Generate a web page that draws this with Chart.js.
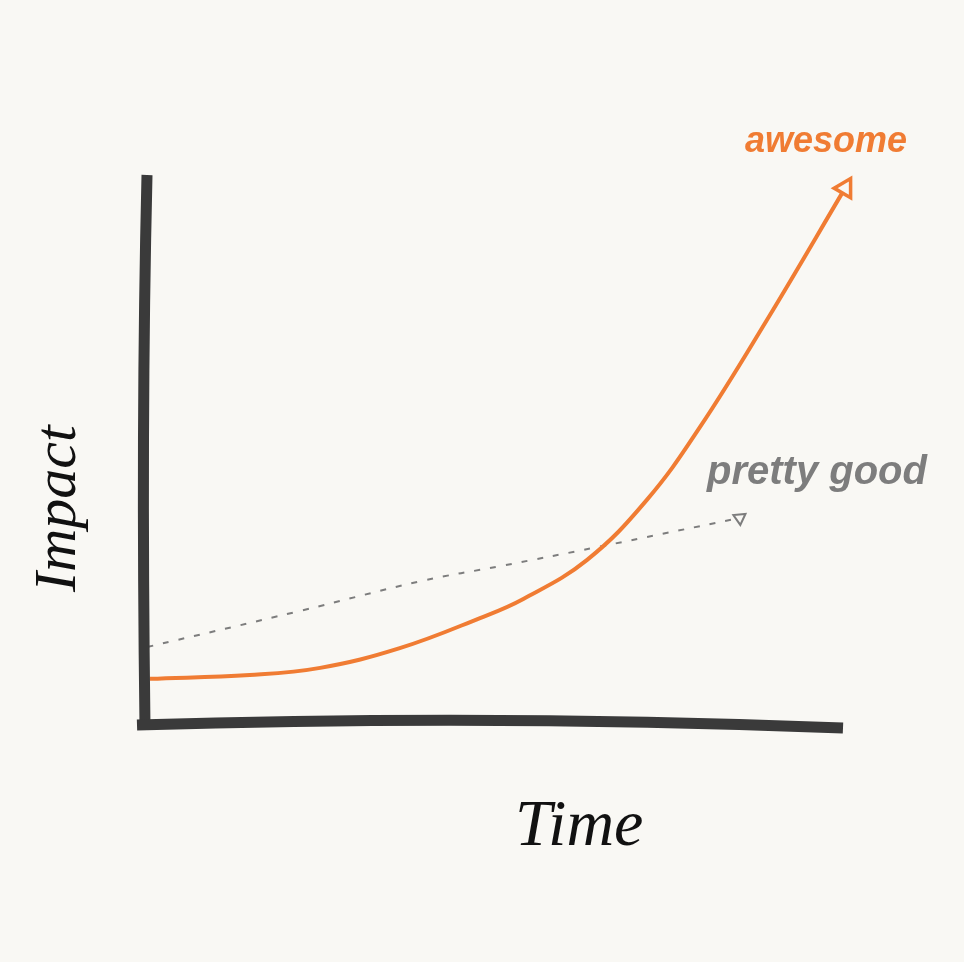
<!DOCTYPE html>
<html>
<head>
<meta charset="utf-8">
<script src="https://cdn.jsdelivr.net/npm/chart.js@4/dist/chart.umd.min.js"></script>
<style>
  html, body { margin: 0; padding: 0; background: #f9f8f4; }
  canvas { display: block; }
</style>
</head>
<body>
<canvas id="sketchChart" width="964" height="962"></canvas>
<script>
// time runs 0..100, impact 0..100 (arbitrary units)
const awesomeTime   = [0.7, 15.0, 25.1, 36.5, 48.0, 54.2, 63.3, 71.9, 79.5, 89.1, 100.3];
const awesomeImpact = [7.9, 8.6, 9.9, 13.5, 19.0, 22.5, 29.6, 40.6, 53.9, 73.5, 97.6];

const goodTime   = [0.3, 22.2, 39.7, 50.9, 64.9, 85.2];
const goodImpact = [13.7, 20.3, 25.8, 28.5, 32.0, 37.3];

const labels = { x: 'Time', y: 'Impact', awesome: 'awesome', good: 'pretty good' };

const orange = '#f07c33';
const grey = '#7d7d7d';
const ink = '#3a3a3a';
const paper = '#f9f8f4';

function toPoints(xs, ys) {
  return xs.map((x, i) => ({ x: x, y: ys[i] }));
}

// arrowhead only on the last point of each series
function lastOnly(size) {
  return ctx => ctx.dataIndex === ctx.dataset.data.length - 1 ? size : 0;
}

const sketchPlugin = {
  id: 'sketch',
  beforeDraw(chart) {
    const c = chart.ctx;
    c.save();
    c.fillStyle = paper;
    c.fillRect(0, 0, chart.width, chart.height);
    c.restore();
  },
  afterDraw(chart) {
    const c = chart.ctx;
    const a = chart.chartArea;
    c.save();
    // wobbly hand drawn axes
    c.strokeStyle = ink;
    c.lineWidth = 11;
    c.lineCap = 'butt';
    c.beginPath();
    c.moveTo(a.left + 2, a.top);
    c.quadraticCurveTo(a.left - 4, a.top + 250, a.left, a.bottom + 5);
    c.stroke();
    c.beginPath();
    c.moveTo(a.left - 8, a.bottom + 3);
    c.quadraticCurveTo(a.left + 350, a.bottom - 8, a.right, a.bottom + 6);
    c.stroke();

    // text
    c.textBaseline = 'alphabetic';
    c.fillStyle = orange;
    c.font = 'italic bold 36px "Liberation Sans"';
    c.fillText(labels.awesome, 745, 152);

    c.fillStyle = grey;
    c.font = 'italic bold 40px "Liberation Sans"';
    c.fillText(labels.good, 707, 484);

    c.fillStyle = '#111';
    c.font = 'italic 66px "Liberation Serif"';
    c.fillText(labels.x, 515, 845);

    c.translate(75, 592);
    c.rotate(-Math.PI / 2);
    c.font = 'italic 60px "Liberation Serif"';
    c.fillText(labels.y, 0, 0);
    c.restore();
  }
};

new Chart(document.getElementById('sketchChart').getContext('2d'), {
  type: 'scatter',
  data: {
    datasets: [
      {
        label: labels.awesome,
        data: toPoints(awesomeTime, awesomeImpact),
        showLine: true,
        clip: false,
        borderColor: orange,
        borderWidth: 4,
        tension: 0.4,
        pointStyle: 'triangle',
        pointRadius: lastOnly(11),
        pointRotation: 30,
        pointBorderColor: orange,
        pointBackgroundColor: paper,
        pointBorderWidth: 3.5
      },
      {
        label: labels.good,
        data: toPoints(goodTime, goodImpact),
        showLine: true,
        clip: false,
        borderColor: grey,
        borderWidth: 2,
        borderDash: [6, 10],
        tension: 0.4,
        pointStyle: 'triangle',
        pointRadius: lastOnly(7),
        pointRotation: 55,
        pointBorderColor: grey,
        pointBackgroundColor: paper,
        pointBorderWidth: 2
      }
    ]
  },
  options: {
    responsive: false,
    animation: false,
    layout: { padding: { left: 145, right: 121, top: 175, bottom: 240 } },
    scales: {
      x: { type: 'linear', min: 0, max: 100, display: false },
      y: { type: 'linear', min: 0, max: 100, display: false }
    },
    plugins: {
      legend: { display: false },
      tooltip: { enabled: false }
    }
  },
  plugins: [sketchPlugin]
});
</script>
</body>
</html>
